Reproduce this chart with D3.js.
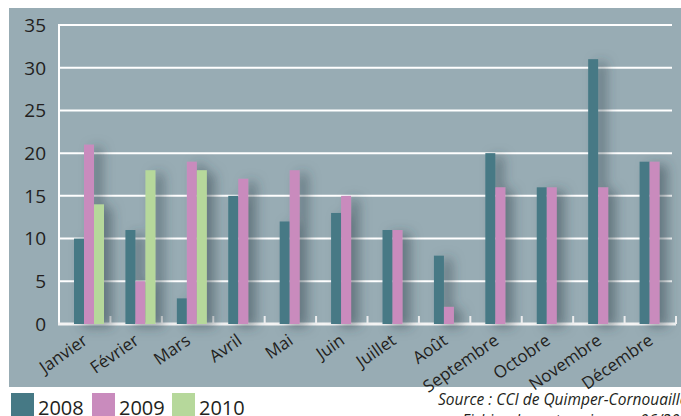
<!DOCTYPE html>
<html>
<head>
<meta charset="utf-8">
<script src="https://cdn.jsdelivr.net/npm/d3@7"></script>
<style>
  body { margin: 0; background: #fff; }
  svg text { font-family: "Open Sans", sans-serif; fill: #231f20; }
</style>
</head>
<body>
<div id="chart"></div>
<script>
const months = ["Janvier", "Février", "Mars", "Avril", "Mai", "Juin", "Juillet", "Août", "Septembre", "Octobre", "Novembre", "Décembre"];
const years = ["2008", "2009", "2010"];
const v2008 = [10, 11, 3, 15, 12, 13, 11, 8, 20, 16, 31, 19];
const v2009 = [21, 5, 19, 17, 18, 15, 11, 2, 16, 16, 16, 19];
const v2010 = [14, 18, 18, null, null, null, null, null, null, null, null, null];
const yTicks = [0, 5, 10, 15, 20, 25, 30, 35];
const colors = ["#467985", "#c98bbd", "#b6d89b"];

const width = 681, height = 416;
const margin = { top: 25, bottom: 92, left: 59, right: 5 };

const svg = d3.select("#chart").append("svg")
  .attr("width", width)
  .attr("height", height);

const defs = svg.append("defs");
const f = defs.append("filter").attr("id", "shadow")
  .attr("x", "-50%").attr("y", "-20%").attr("width", "300%").attr("height", "140%");
f.append("feDropShadow")
  .attr("dx", 8).attr("dy", 3).attr("stdDeviation", 6)
  .attr("flood-color", "#33434a").attr("flood-opacity", 0.5);

// panel
svg.append("rect")
  .attr("x", 9).attr("y", 8)
  .attr("width", width - 9).attr("height", 379)
  .attr("fill", "#98acb4");

const x = d3.scaleBand()
  .domain(months)
  .range([margin.left, width - margin.right]);

const sub = d3.scaleBand()
  .domain(years)
  .range([15, 45]);

const y = d3.scaleLinear()
  .domain([0, 35])
  .range([height - margin.bottom, margin.top]);

// grid
svg.append("g")
  .selectAll("line")
  .data(yTicks.filter(d => d > 0))
  .enter()
  .append("line")
  .attr("x1", margin.left).attr("x2", 672)
  .attr("y1", d => y(d)).attr("y2", d => y(d))
  .attr("stroke", "#fff")
  .attr("stroke-width", 2);

// axes lines
svg.append("line")
  .attr("x1", margin.left).attr("x2", margin.left)
  .attr("y1", y(35) - 1).attr("y2", y(0) + 1)
  .attr("stroke", "#fff").attr("stroke-width", 2);
svg.append("line")
  .attr("x1", margin.left - 1).attr("x2", width - margin.right)
  .attr("y1", y(0)).attr("y2", y(0))
  .attr("stroke", "#f4f4f4").attr("stroke-width", 3);

// category ticks
svg.append("g")
  .selectAll("line")
  .data(months.slice(1).concat(["end"]))
  .enter()
  .append("line")
  .attr("x1", (d, i) => margin.left + (i + 1) * x.bandwidth())
  .attr("x2", (d, i) => margin.left + (i + 1) * x.bandwidth())
  .attr("y1", y(0))
  .attr("y2", y(0) - 8)
  .attr("stroke", "#f4f4f4")
  .attr("stroke-width", 2);

// bars
const series = [v2008, v2009, v2010];
const barData = [];
months.forEach((m, i) => {
  years.forEach((yr, j) => {
    if (series[j][i] != null) barData.push({ m: m, yr: yr, v: series[j][i], c: colors[j] });
  });
});

svg.append("g")
  .attr("filter", "url(#shadow)")
  .selectAll("rect")
  .data(barData)
  .enter()
  .append("rect")
  .attr("x", d => x(d.m) + sub(d.yr))
  .attr("y", d => y(d.v))
  .attr("width", sub.bandwidth())
  .attr("height", d => y(0) - y(d.v))
  .attr("fill", d => d.c);

// y labels
svg.append("g")
  .selectAll("text")
  .data(yTicks)
  .enter()
  .append("text")
  .attr("x", 46)
  .attr("y", d => y(d))
  .attr("dy", "0.36em")
  .attr("text-anchor", "end")
  .attr("font-size", 19)
  .text(d => d);

// month labels
svg.append("g")
  .selectAll("text")
  .data(months)
  .enter()
  .append("text")
  .attr("transform", d => `translate(${x(d) + x.bandwidth() / 2 + 4}, ${y(0) + 19}) rotate(-35)`)
  .attr("text-anchor", "end")
  .attr("font-size", 17)
  .text(d => d);

// legend
const legend = svg.append("g")
  .selectAll("g")
  .data(years)
  .enter()
  .append("g")
  .attr("transform", (d, i) => `translate(${[11, 92, 172][i]}, 393)`);
legend.append("rect")
  .attr("width", 23).attr("height", 23)
  .attr("fill", (d, i) => colors[i]);
legend.append("text")
  .attr("x", 27).attr("y", 22)
  .attr("font-size", 20)
  .text(d => d);

// source
svg.append("text")
  .attr("x", 438).attr("y", 405)
  .attr("font-size", 15.5)
  .attr("font-style", "italic")
  .text("Source : CCI de Quimper-Cornouaille");
svg.append("text")
  .attr("x", 462).attr("y", 426)
  .attr("font-size", 15.5)
  .attr("font-style", "italic")
  .text("Fichier des entreprises au 06/2010");
</script>
</body>
</html>
